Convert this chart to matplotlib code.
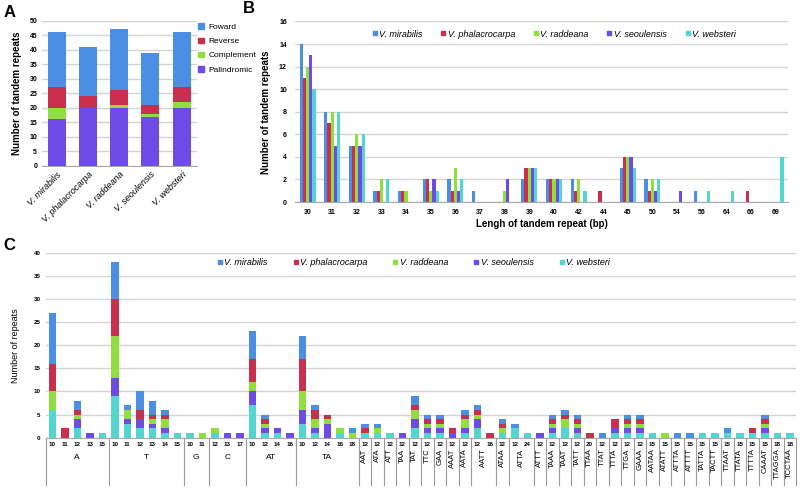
import numpy as np
import matplotlib
matplotlib.use("Agg")
import matplotlib.pyplot as plt
from matplotlib.patches import Patch
from matplotlib.lines import Line2D

plt.rcParams['font.family'] = ['Liberation Sans', 'DejaVu Sans']

# colours (Excel style)
col_mir = '#4a8fe4'
col_pha = '#c8304e'
col_rad = '#8fe03c'
col_seo = '#6e4ae6'
col_web = '#54d6d0'
grid_c = '#d4d4d4'

species = ['V. mirabilis', 'V. phalacrocarpa', 'V. raddeana', 'V. seoulensis', 'V. websteri']

# ---- panel A data ----
a_fwd = [19, 17, 21, 18, 19]
a_rev = [7, 4, 5, 3, 5]
a_comp = [4, 0, 1, 1, 2]
a_pal = [16, 20, 20, 17, 20]

# ---- panel B data ----
b_len = ['30', '31', '32', '33', '34', '35', '36', '37', '38', '39', '40', '42',
         '44', '45', '50', '54', '56', '64', '66', '69']
b_mir = [14, 8, 5, 1, 1, 2, 2, 1, 0, 2, 2, 2, 0, 3, 2, 0, 1, 0, 0, 0]
b_pha = [11, 7, 5, 1, 1, 2, 1, 0, 0, 3, 2, 1, 1, 4, 1, 0, 0, 0, 1, 0]
b_rad = [12, 8, 6, 2, 1, 1, 3, 0, 1, 3, 2, 2, 0, 4, 2, 0, 0, 0, 0, 0]
b_seo = [13, 5, 5, 0, 0, 2, 1, 0, 2, 3, 2, 0, 0, 4, 1, 1, 0, 0, 0, 0]
b_web = [10, 8, 6, 2, 0, 1, 2, 0, 0, 3, 2, 1, 0, 3, 2, 0, 1, 1, 0, 4]

# ---- panel C data ----
c_motif = ['A', 'A', 'A', 'A', 'A', 'T', 'T', 'T', 'T', 'T', 'T', 'G', 'G', 'C', 'C', 'C',
           'AT', 'AT', 'AT', 'AT', 'TA', 'TA', 'TA', 'TA', 'TA',
           'AAT', 'ATA', 'ATT', 'TAA', 'TAT', 'TTC', 'GAA',
           'AAAT', 'AATA', 'AATT', 'AATT', 'ATAA', 'ATTA', 'ATTA', 'ATTT', 'TAAA', 'TAAT',
           'TATT', 'TTAA', 'TTAT', 'TTTA', 'TTGA', 'GAAA',
           'AATAA', 'ATATT', 'ATTTA', 'ATTTT', 'TATTA', 'TACTT', 'TTAAT', 'TTATA', 'TTTTA',
           'CAAAT', 'TTAGGA', 'TCCTAA']
c_len = [10, 11, 12, 13, 15, 10, 11, 12, 13, 14, 15, 10, 11, 12, 13, 17,
         10, 12, 14, 16, 10, 12, 14, 16, 18,
         12, 12, 12, 12, 12, 12, 12,
         12, 12, 12, 16, 12, 12, 24, 12, 12, 12, 12, 20, 12, 12, 12, 12,
         15, 15, 15, 15, 15, 15, 15, 15, 15, 15, 18, 18]
c_mir = [11, 0, 2, 0, 0, 8, 1, 4, 3, 1, 0, 0, 0, 0, 0, 0, 6, 1, 0, 0, 5, 1, 0, 0, 1,
         1, 1, 0, 0, 2, 1, 1, 0, 1, 1, 0, 1, 1, 0, 0, 1, 1, 1, 0, 1, 0, 1, 1,
         0, 0, 1, 1, 0, 0, 1, 0, 0, 1, 0, 0]
c_pha = [6, 2, 1, 0, 0, 8, 0, 2, 1, 1, 0, 0, 0, 0, 0, 0, 5, 1, 0, 0, 7, 2, 1, 0, 0,
         1, 0, 0, 0, 1, 1, 1, 1, 1, 1, 1, 1, 0, 0, 0, 1, 1, 1, 1, 0, 2, 1, 1,
         0, 0, 0, 0, 0, 0, 0, 0, 1, 1, 0, 0]
c_rad = [4, 0, 1, 0, 0, 9, 2, 0, 1, 2, 0, 0, 1, 1, 0, 0, 2, 1, 0, 0, 4, 2, 1, 1, 1,
         0, 1, 0, 0, 2, 1, 1, 0, 2, 1, 0, 1, 0, 0, 0, 1, 2, 1, 0, 0, 0, 1, 1,
         0, 1, 0, 0, 0, 0, 0, 0, 0, 1, 0, 0]
c_seo = [0, 0, 2, 1, 0, 4, 1, 2, 1, 1, 0, 0, 0, 0, 1, 1, 3, 1, 1, 1, 3, 1, 3, 0, 0,
         0, 0, 0, 1, 2, 1, 1, 1, 1, 2, 0, 0, 0, 0, 1, 1, 0, 1, 0, 0, 1, 1, 1,
         0, 0, 0, 0, 0, 0, 0, 0, 0, 1, 0, 0]
c_web = [6, 0, 2, 0, 1, 9, 3, 2, 2, 1, 1, 1, 0, 1, 0, 0, 7, 1, 1, 0, 3, 1, 0, 1, 0,
         1, 1, 1, 0, 2, 1, 1, 0, 1, 2, 0, 1, 2, 1, 0, 1, 2, 1, 0, 0, 1, 1, 1,
         1, 0, 0, 0, 1, 1, 1, 1, 1, 1, 1, 1]

fig = plt.figure(figsize=(8, 4.88), dpi=100)


def style_ax(ax):
    for s in ['top', 'right', 'left']:
        ax.spines[s].set_visible(False)
    ax.spines['bottom'].set_color('#a8a8a8')
    ax.yaxis.grid(True, color=grid_c, linewidth=1)
    ax.set_axisbelow(True)
    ax.tick_params(length=0)


# ---------------- Panel A ----------------
axA = fig.add_axes([0.0525, 0.660, 0.194, 0.2976])
style_ax(axA)
x = np.arange(len(species))
bot = np.zeros(5)
for vals, col in [(a_pal, col_seo), (a_comp, col_rad), (a_rev, col_pha), (a_fwd, col_mir)]:
    axA.bar(x, vals, 0.58, bottom=bot, color=col)
    bot += np.array(vals)
axA.set_xlim(-0.48, 4.5)
axA.set_ylim(0, 50)
axA.set_yticks(range(0, 51, 5))
axA.set_yticklabels([str(v) for v in range(0, 51, 5)], fontsize=5, fontweight='bold')
axA.set_xticks(x)
axA.set_xticklabels(species, rotation=45, ha='right', rotation_mode='anchor',
                    fontsize=6.5, style='italic')
axA.tick_params(axis='x', pad=3)
axA.set_ylabel('Number of tandem repeats', fontsize=7, fontweight='bold', labelpad=5)
hA = [Patch(color=col_mir), Patch(color=col_pha), Patch(color=col_rad), Patch(color=col_seo)]
fig.legend(hA, ['Foward', 'Reverse', 'Complement', 'Palindromic'], loc='upper left',
           bbox_to_anchor=(0.248, 0.952), frameon=False, fontsize=6,
           handlelength=0.7, handleheight=0.7, handletextpad=0.5, labelspacing=0.75,
           borderaxespad=0, borderpad=0)

# ---------------- Panel B ----------------
axB = fig.add_axes([0.369, 0.586, 0.616, 0.370])
style_ax(axB)
xb = np.arange(len(b_len))
bw = 0.13
for k, (vals, col) in enumerate([(b_mir, col_mir), (b_pha, col_pha), (b_rad, col_rad),
                                  (b_seo, col_seo), (b_web, col_web)]):
    axB.bar(xb + (k - 2) * bw, vals, bw, color=col)
axB.set_xlim(-0.5, 19.5)
axB.set_ylim(0, 16)
axB.set_yticks(range(0, 17, 2))
axB.set_yticklabels([str(v) for v in range(0, 17, 2)], fontsize=5, fontweight='bold')
axB.set_xticks(xb)
axB.set_xticklabels(b_len, fontsize=5, fontweight='bold')
axB.tick_params(axis='x', pad=5)
axB.tick_params(axis='y', pad=6)
axB.set_ylabel('Number of tandem repeats', fontsize=7, fontweight='bold', labelpad=6)
axB.set_xlabel('Lengh of tandem repeat (bp)', fontsize=7, fontweight='bold', labelpad=2)
hB = [Line2D([], [], marker='s', linestyle='', color=c, markersize=3.5)
      for c in [col_mir, col_pha, col_rad, col_seo, col_web]]
axB.legend(hB, species, loc='center', bbox_to_anchor=(0.525, 0.93), ncol=5,
           frameon=False, prop={'size': 6.5, 'style': 'italic'}, handlelength=0.6,
           handletextpad=0.2, columnspacing=2.0, borderaxespad=0)

# ---------------- Panel C ----------------
axC = fig.add_axes([0.0575, 0.103, 0.9375, 0.379])
style_ax(axC)
xc = np.arange(len(c_len))
bot = np.zeros(len(c_len))
for vals, col in [(c_web, col_web), (c_seo, col_seo), (c_rad, col_rad),
                  (c_pha, col_pha), (c_mir, col_mir)]:
    axC.bar(xc, vals, 0.6, bottom=bot, color=col)
    bot += np.array(vals)
axC.set_xlim(-0.5, len(c_len) - 0.5)
axC.set_ylim(0, 40)
axC.set_yticks(range(0, 41, 5))
axC.set_yticklabels([str(v) for v in range(0, 41, 5)], fontsize=4.5, fontweight='bold')
axC.tick_params(axis='y', pad=4)
axC.set_xticks(xc)
axC.set_xticklabels([str(v) for v in c_len], fontsize=4.5, fontweight='bold')
axC.tick_params(axis='x', pad=3)
axC.set_ylabel('Number of repeats', fontsize=6.5, labelpad=10)
hC = [Line2D([], [], marker='s', linestyle='', color=c, markersize=3.5)
      for c in [col_mir, col_pha, col_rad, col_seo, col_web]]
axC.legend(hC, species, loc='center', bbox_to_anchor=(0.49, 0.946), ncol=5,
           frameon=False, prop={'size': 6.5, 'style': 'italic'}, handlelength=0.6,
           handletextpad=0.2, columnspacing=2.8, borderaxespad=0)

# multi-level category axis: group labels and separators
trans = axC.get_xaxis_transform()
sep_col = '#9a9a9a'
starts = [0] + [i for i in range(1, len(c_motif)) if c_motif[i] != c_motif[i - 1]]
ends = starts[1:] + [len(c_motif)]
for s, e in zip(starts, ends):
    axC.plot([s - 0.5, s - 0.5], [0, -0.255], transform=trans, color=sep_col,
             linewidth=0.8, clip_on=False)
    mid = (s + e - 1) / 2
    name = c_motif[s]
    if len(name) <= 2:
        axC.text(mid, -0.105, name, transform=trans, ha='center', va='center', fontsize=6)
    else:
        axC.text(mid, -0.058, name, transform=trans, ha='center', va='top',
                 rotation=90, fontsize=5.5)
axC.plot([len(c_motif) - 0.5] * 2, [0, -0.255], transform=trans, color=sep_col,
         linewidth=0.8, clip_on=False)

# panel letters
fig.text(0.004, 0.975, 'A', fontsize=12, fontweight='bold', va='center')
fig.text(0.304, 0.982, 'B', fontsize=12, fontweight='bold', va='center')
fig.text(0.004, 0.497, 'C', fontsize=12, fontweight='bold', va='center')

fig.savefig('out.png', dpi=100)
